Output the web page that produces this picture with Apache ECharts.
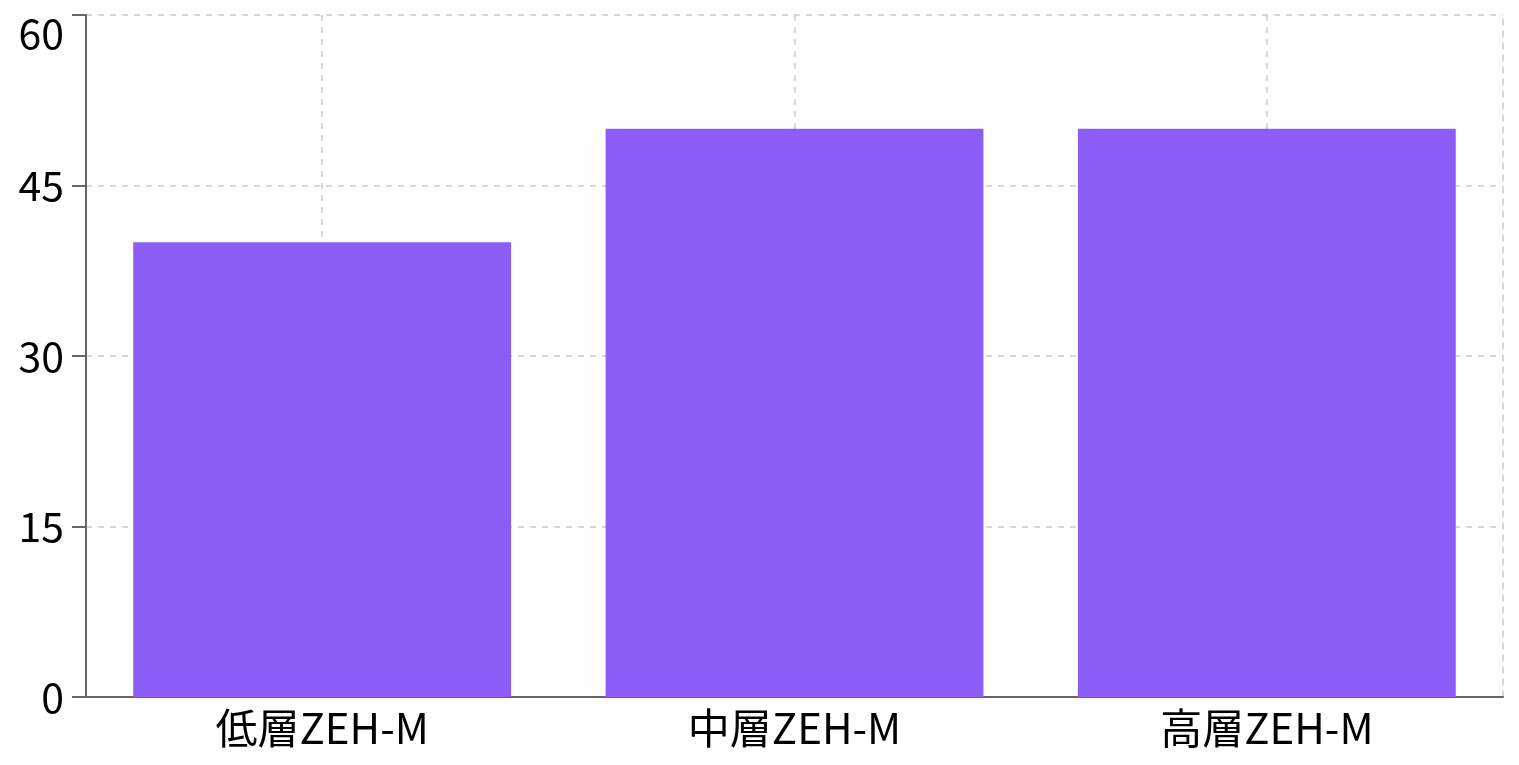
<!DOCTYPE html>
<html>
<head>
<meta charset="utf-8">
<script src="https://cdn.jsdelivr.net/npm/echarts@6/dist/echarts.min.js"></script>
<style>
  html, body { margin: 0; padding: 0; background: #fff; }
  #chart { width: 1519px; height: 765px; }
</style>
</head>
<body>
<div id="chart"></div>
<script>
  'use strict';

  var categories = ['低層ZEH-M', '中層ZEH-M', '高層ZEH-M'];
  var values = [40, 50, 50];
  var yMin = 0;
  var yMax = 60;
  var yStep = 15;

  var font = '"Noto Sans CJK JP", "Noto Sans", sans-serif';
  var gridLine = { color: '#cccccc', width: 1.5, type: [6, 6] };

  var chart = echarts.init(document.getElementById('chart'));
  chart.setOption({
    animation: false,
    grid: { left: 86, right: 16, top: 15, bottom: 68, outerBoundsMode: 'none' },
    xAxis: {
      type: 'category',
      data: categories,
      axisLine: { lineStyle: { color: '#666666', width: 2 } },
      axisTick: { alignWithLabel: true, length: 15, lineStyle: { color: '#666666', width: 2 } },
      axisLabel: { color: '#000', fontSize: 42, fontFamily: font, margin: 10 },
      splitLine: { show: true, alignWithLabel: true, lineStyle: gridLine }
    },
    yAxis: [{
      type: 'value',
      min: yMin,
      max: yMax,
      interval: yStep,
      axisLine: { show: true, lineStyle: { color: '#666666', width: 2 } },
      axisTick: { show: true, length: 14, lineStyle: { color: '#666666', width: 2 } },
      axisLabel: {
        color: '#000', fontSize: 41, fontFamily: font, margin: 22,
        // top label sits below its tick so it stays inside the picture
        formatter: function(v) {
          return v === yMax ? '{top|' + v + '}' : String(v);
        },
        rich: {
          top: { color: '#000', fontSize: 41, fontFamily: font, padding: [36, 0, 0, 0] }
        }
      },
      splitLine: { show: true, lineStyle: gridLine }
    }, {
      type: 'value',
      position: 'right',
      min: yMin,
      max: yMax,
      interval: yStep,
      axisLine: { show: true, lineStyle: gridLine },
      axisTick: { show: false },
      axisLabel: { show: false },
      splitLine: { show: false }
    }],
    series: [{
      type: 'bar',
      data: values,
      barCategoryGap: '20%',
      itemStyle: { color: '#8b5cf6' }
    }]
  });
</script>
</body>
</html>
